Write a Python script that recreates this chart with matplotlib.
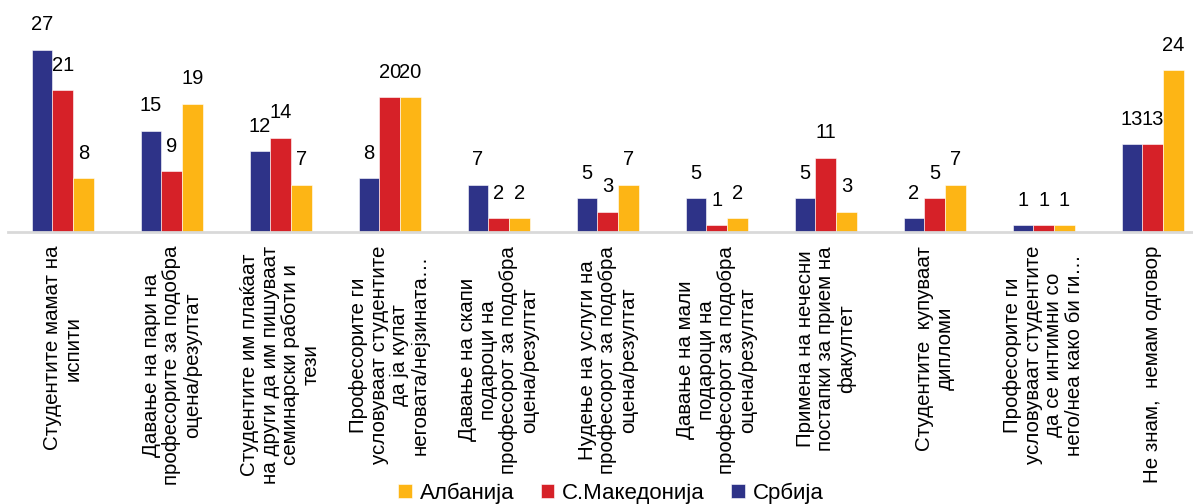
import numpy as np
import matplotlib
matplotlib.use('Agg')
import matplotlib.pyplot as plt
from matplotlib import font_manager

categories = [
    'Студентите мамат на\nиспити',
    'Давање на пари на\nпрофесорите за подобра\nоцена/резултат',
    'Студентите им плаќаат\nна други да им пишуваат\nсеминарски работи и\nтези',
    'Професорите ги\nусловуваат студентите\nда ја купат\nнеговата/нејзината…',
    'Давање на скапи\nподароци на\nпрофесорот за подобра\nоцена/резултат',
    'Нудење на услуги на\nпрофесорот за подобра\nоцена/резултат',
    'Давање на мали\nподароци на\nпрофесорот за подобра\nоцена/резултат',
    'Примена на нечесни\nпостапки за прием на\nфакултет',
    'Студентите  купуваат\nдипломи',
    'Професорите ги\nусловуваат студентите\nда се интимни со\nнего/неа како би ги…',
    'Не знам,  немам одговор',
]
srbija = [27, 15, 12, 8, 7, 5, 5, 5, 2, 1, 13]
makedonija = [21, 9, 14, 20, 2, 3, 1, 11, 5, 1, 13]
albanija = [8, 19, 7, 20, 2, 7, 2, 3, 7, 1, 24]

series = [('Србија', srbija, '#2E3388'),
          ('С.Македонија', makedonija, '#D62128'),
          ('Албанија', albanija, '#FDB515')]

# narrow face for the value labels if there is one
names = {f.name for f in font_manager.fontManager.ttflist}
narrow = 'Liberation Sans'
for cand in ['Liberation Sans Narrow', 'Arial Narrow', 'DejaVu Sans Condensed']:
    if cand in names:
        narrow = cand
        break
plt.rcParams['font.family'] = ['Liberation Sans', 'DejaVu Sans']

fig = plt.figure(figsize=(11.93, 5.04), dpi=100)
ax = fig.add_axes([8 / 1193, 1 - 232 / 504, 1 - 8 / 1193, 232 / 504])

x = np.arange(len(categories))
w = 0.19
handles = []
for i, (name, vals, col) in enumerate(series):
    pos = x + (i - 1) * w
    b = ax.bar(pos, vals, w, color=col, edgecolor='white', linewidth=0.4, label=name)
    handles.append(b)
    for px, v in zip(pos, vals):
        ax.annotate(str(v), (px, v), xytext=(0, 11), textcoords='offset points',
                    ha='center', va='bottom',
                    fontsize=16.5 if narrow != 'Liberation Sans' else 14.5,
                    family=narrow, color='black', clip_on=False)

ax.set_xlim(-0.502, 10.37)
ax.set_ylim(0, 232 / 6.75)
ax.set_xticks(x)
ax.set_xticklabels(categories, rotation=90, ha='center', va='top',
                   multialignment='center', fontsize=14.8, linespacing=1.1)
ax.tick_params(axis='x', length=0, pad=10)
ax.set_yticks([])
for s in ['top', 'right', 'left']:
    ax.spines[s].set_visible(False)
ax.spines['bottom'].set_color('#D9D9D9')
ax.spines['bottom'].set_linewidth(2)

fig.legend(handles[::-1], [s[0] for s in series][::-1], loc='center',
           bbox_to_anchor=(0.512, 0.022), ncol=3, frameon=False, fontsize=16,
           handlelength=0.6, handleheight=0.6, handletextpad=0.35, columnspacing=1.2)

fig.savefig('out.png', dpi=100)
